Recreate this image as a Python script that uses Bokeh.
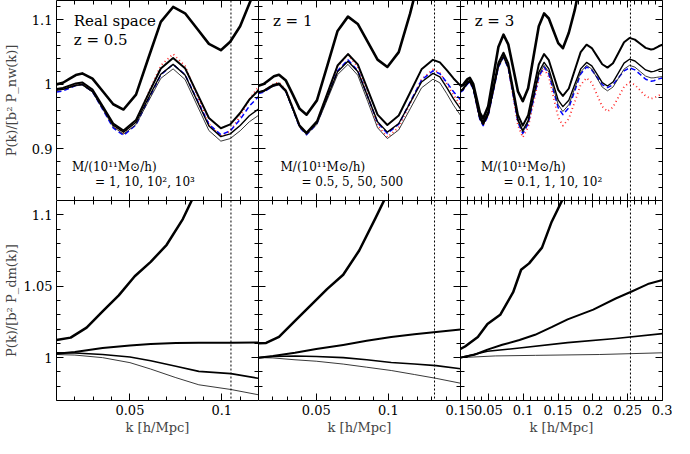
from bokeh.plotting import figure
from bokeh.layouts import row, column
from bokeh.models import (Range1d, LinearAxis, FixedTicker, CustomJSTickFormatter, Span, Label,
                          ColumnDataSource)
from bokeh.embed import file_html
from bokeh.resources import INLINE

Spline = None
try:
    from bokeh.models.glyphs import Spline
except Exception:
    Spline = None

# ---------------- DATA ----------------
# Top row: P(k)/[b^2 P_nw(k)]; A..D = four halo masses (A highest), plus blue dashed and red dotted
k_top_z05 = [0.010, 0.0135, 0.017, 0.0205, 0.024, 0.0296, 0.0353, 0.0409, 0.0465, 0.0533, 0.060,
             0.0668, 0.0735, 0.080, 0.0865, 0.093, 0.0995, 0.1046, 0.110, 0.115, 0.120]
top_z05_A = [1.000, 1.0025, 1.0085, 1.0145, 1.017, 1.0088, 0.989, 0.9692, 0.961, 0.9842, 1.0405,
             1.0968, 1.120, 1.1102, 1.0865, 1.0628, 1.053, 1.066, 1.09, 1.125, 1.16]
top_z05_B = [0.993, 0.9945, 0.998, 1.0015, 1.003, 0.9921, 0.9658, 0.9394, 0.9285, 0.9449, 0.9848,
             1.0246, 1.041, 1.0251, 0.9865, 0.9479, 0.932, 0.9379, 0.9556, 0.9763, 0.991]
top_z05_C = [0.991, 0.9923, 0.9955, 0.9987, 1.000, 0.9892, 0.963, 0.9368, 0.926, 0.9413, 0.9785,
             1.0157, 1.031, 1.0146, 0.975, 0.9354, 0.919, 0.9233, 0.9362, 0.9513, 0.962]
top_z05_D = [0.991, 0.9922, 0.995, 0.9978, 0.999, 0.9879, 0.961, 0.9341, 0.923, 0.9377, 0.9735,
             1.0093, 1.024, 1.0076, 0.968, 0.9284, 0.912, 0.916, 0.928, 0.942, 0.952]
top_z05_blue = [0.988, 0.9898, 0.994, 0.9982, 1.000, 0.9885, 0.9605, 0.9325, 0.921, 0.9371, 0.976,
                1.0149, 1.031, 1.0151, 0.9765, 0.9379, 0.922, 0.9279, 0.9456, 0.9663, 0.981]
top_z05_red = [0.992, 0.9935, 0.997, 1.0005, 1.002, 0.9908, 0.9635, 0.9362, 0.925, 0.9428, 0.986,
               1.0292, 1.047, 1.0285, 0.9835, 0.9385, 0.920, 0.9276, 0.9504, 0.977, 0.996]

k_top_z1 = [0.010, 0.0136, 0.0171, 0.0207, 0.0242, 0.029, 0.0338, 0.0385, 0.0433, 0.0505, 0.0577,
            0.0648, 0.072, 0.0788, 0.0857, 0.0925, 0.0993, 0.1072, 0.1151, 0.123, 0.1309, 0.1357,
            0.1405, 0.1452, 0.150]
top_z1_A = [0.998, 1.0005, 1.0065, 1.0125, 1.015, 1.0059, 0.984, 0.9621, 0.953, 0.9752, 1.029,
            1.0828, 1.105, 1.0936, 1.066, 1.0384, 1.027, 1.05, 1.11, 1.18]
top_z1_B = [0.988, 0.99, 0.9948, 0.9995, 1.0015, 0.9903, 0.9633, 0.9362, 0.925, 0.9428, 0.986,
            1.0292, 1.047, 1.0309, 0.992, 0.9531, 0.937, 0.9517, 0.9875, 1.0233, 1.038, 1.034,
            1.022, 1.0092, 0.998]
top_z1_C = [0.988, 0.9898, 0.994, 0.9982, 1.000, 0.9889, 0.962, 0.9351, 0.924, 0.9404, 0.98,
            1.0196, 1.036, 1.0199, 0.981, 0.9421, 0.926, 0.9393, 0.9715, 1.0037, 1.017, 1.0115,
            0.995, 0.9774, 0.962]
top_z1_D = [0.987, 0.9888, 0.993, 0.9972, 0.999, 0.9878, 0.9605, 0.9332, 0.922, 0.9379, 0.9765,
            1.0151, 1.031, 1.0142, 0.9735, 0.9328, 0.916, 0.9294, 0.962, 0.9946, 1.008, 1.0024,
            0.9856, 0.9677, 0.952]
top_z1_blue = [0.986, 0.988, 0.993, 0.998, 1.000, 0.9886, 0.961, 0.9334, 0.922, 0.9389, 0.98,
               1.0211, 1.038, 1.0214, 0.981, 0.9406, 0.924, 0.9382, 0.9725, 1.0068, 1.021, 1.0165,
               1.003, 0.9886, 0.976]
top_z1_red = [0.988, 0.9902, 0.9955, 1.0008, 1.003, 0.9915, 0.9635, 0.9355, 0.924, 0.9418, 0.985,
              1.0282, 1.046, 1.0273, 0.982, 0.9367, 0.918, 0.9333, 0.9705, 1.0077, 1.023, 1.0175,
              1.001, 0.9834, 0.968]

k_top_z3 = [0.010, 0.01335, 0.0167, 0.02005, 0.0234, 0.0282, 0.033, 0.0377, 0.0425, 0.0498, 0.0571,
            0.0644, 0.0717, 0.0786, 0.0856, 0.0925, 0.0994, 0.1071, 0.1147, 0.1224, 0.130, 0.1368,
            0.1435, 0.1503, 0.157, 0.1655, 0.174, 0.1825, 0.191, 0.1985, 0.206, 0.2135, 0.221,
            0.2289, 0.2369, 0.2448, 0.2527, 0.2604, 0.2681, 0.2758, 0.2835, 0.2876, 0.2918, 0.2959,
            0.300]
top_z3_A = [0.997, 0.9989, 1.0035, 1.0081, 1.010, 1.0008, 0.9785, 0.9562, 0.947, 0.966, 1.012,
            1.058, 1.077, 1.062, 1.0255, 0.989, 0.974, 0.9939, 1.042, 1.0901, 1.110, 1.1021, 1.083,
            1.0639, 1.056, 1.08, 1.115, 1.16]
top_z3_B = [0.990, 0.9923, 0.998, 1.0037, 1.006, 0.9965, 0.9735, 0.9505, 0.941, 0.9568, 0.995,
            1.0332, 1.049, 1.0325, 0.9925, 0.9525, 0.936, 0.9522, 0.9915, 1.0308, 1.047, 1.0375,
            1.0145, 0.9915, 0.982, 0.9936, 1.0218, 1.0499, 1.0615, 1.0563, 1.0438, 1.0312, 1.026,
            1.0327, 1.049, 1.0653, 1.072, 1.0694, 1.063, 1.0566, 1.054, 1.0549, 1.0574, 1.0598,
            1.0615]
top_z3_C = [0.990, 0.992, 0.997, 1.002, 1.004, 0.9944, 0.971, 0.9476, 0.938, 0.9535, 0.991, 1.0285,
            1.044, 1.0271, 0.9863, 0.9454, 0.9285, 0.9439, 0.9813, 1.0186, 1.034, 1.024, 0.9998,
            0.9755, 0.9655, 0.9755, 0.9998, 1.024, 1.034, 1.0287, 1.0158, 1.0028, 0.9975, 1.0036,
            1.0183, 1.0329, 1.039, 1.0362, 1.0293, 1.0224, 1.0196, 1.0202, 1.0218, 1.0234, 1.0245]
top_z3_D = [0.990, 0.992, 0.997, 1.002, 1.004, 0.9942, 0.9705, 0.9468, 0.937, 0.9523, 0.9895,
            1.0267, 1.042, 1.0251, 0.984, 0.9429, 0.926, 0.9411, 0.9778, 1.0144, 1.0295, 1.0191,
            0.9938, 0.9684, 0.958, 0.9684, 0.9938, 1.0191, 1.0295, 1.0237, 1.0098, 0.9958, 0.990,
            0.9958, 1.0098, 1.0237, 1.0295, 1.0267, 1.0198, 1.0128, 1.010, 1.0102, 1.0109, 1.0116,
            1.012]
top_z3_blue = [0.988, 0.9902, 0.9955, 1.0008, 1.003, 0.9932, 0.9695, 0.9458, 0.936, 0.9515, 0.989,
               1.0265, 1.042, 1.0248, 0.983, 0.9412, 0.924, 0.939, 0.9755, 1.012, 1.027, 1.0162,
               0.99, 0.9638, 0.953, 0.9638, 0.99, 1.0162, 1.027, 1.0223, 1.011, 0.9997, 0.995,
               0.9995, 1.0103, 1.021, 1.0255, 1.0225, 1.0153, 1.008, 1.005, 1.0056, 1.0073, 1.0089,
               1.010]
top_z3_red = [0.990, 0.992, 0.997, 1.002, 1.004, 0.9942, 0.9705, 0.9468, 0.937, 0.9526, 0.9905,
              1.0284, 1.044, 1.0256, 0.981, 0.9364, 0.918, 0.9335, 0.9713, 1.009, 1.0245, 1.0116,
              0.9803, 0.9489, 0.936, 0.9468, 0.973, 0.9992, 1.010, 1.0024, 0.984, 0.9656, 0.958,
              0.9646, 0.9805, 0.9964, 1.003, 0.9993, 0.9905, 0.9817, 0.978, 0.9788, 0.9812, 0.9835,
              0.985]

# Bottom row: P(k)/[b^2 P_dm(k)]
k_bot_z05_A = [0.010, 0.0177, 0.0264, 0.0351, 0.0439, 0.0526, 0.0613, 0.070, 0.0788, 0.084, 0.090]
bot_z05_A = [1.0123, 1.014, 1.021, 1.0324, 1.0436, 1.057, 1.067, 1.079, 1.097, 1.111, 1.125]
k_bot_z05 = [0.010, 0.020, 0.0351, 0.050, 0.0613, 0.075, 0.0875, 0.105, 0.120]
bot_z05_B = [1.0027, 1.004, 1.0067, 1.0085, 1.0096, 1.0102, 1.0105, 1.0105, 1.0106]
bot_z05_C = [1.0034, 1.0032, 1.0022, 1.0005, 0.9978, 0.994, 0.9904, 0.9888, 0.9855]
bot_z05_D = [1.0022, 1.0018, 1.000, 0.9965, 0.992, 0.986, 0.981, 0.9777, 0.974]

k_bot_z1_A = [0.010, 0.0153, 0.0242, 0.0353, 0.0465, 0.0575, 0.0687, 0.0798, 0.0909, 0.0975, 0.105]
bot_z1_A = [1.0101, 1.0103, 1.0146, 1.0257, 1.0369, 1.048, 1.058, 1.075, 1.0973, 1.111, 1.130]
k_bot_z1 = [0.010, 0.020, 0.0353, 0.050, 0.0687, 0.085, 0.102, 0.118, 0.1331, 0.150]
bot_z1_B = [1.000, 1.0012, 1.0034, 1.006, 1.0089, 1.0118, 1.0145, 1.0163, 1.0179, 1.0197]
bot_z1_C = [1.000, 1.0008, 1.0011, 1.0008, 1.000, 0.9985, 0.9966, 0.9955, 0.9944, 0.9922]
bot_z1_D = [1.000, 0.9998, 0.9985, 0.9975, 0.9955, 0.9933, 0.991, 0.9882, 0.9855, 0.9821]

k_bot_z3_A = [0.010, 0.0165, 0.0349, 0.0487, 0.067, 0.0856, 0.097, 0.1085, 0.127, 0.1408, 0.1568, 0.165]
bot_z3_A = [1.0062, 1.0078, 1.0145, 1.0235, 1.030, 1.0458, 1.0615, 1.066, 1.077, 1.095, 1.111, 1.125]
k_bot_z3_B = [0.010, 0.030, 0.0487, 0.070, 0.0947, 0.117, 0.1408, 0.1638, 0.2006, 0.2328, 0.2558,
              0.2789, 0.300]
bot_z3_B = [1.000, 1.002, 1.0056, 1.009, 1.0123, 1.016, 1.0213, 1.0268, 1.0336, 1.0414, 1.0463,
            1.0515, 1.0544]
k_bot_z3_C = [0.010, 0.0487, 0.0947, 0.1638, 0.2328, 0.300]
bot_z3_C = [1.000, 1.0045, 1.0067, 1.0105, 1.0134, 1.0168]
k_bot_z3_D = [0.010, 0.060, 0.1177, 0.2099, 0.300]
bot_z3_D = [1.000, 1.0012, 1.0016, 1.0022, 1.0034]

k_nl = [0.105, 0.132, 0.254]

x1_major = [0.05, 0.1]
x1_minor = [0.02, 0.03, 0.04, 0.06, 0.07, 0.08, 0.09, 0.11]
x2_major = [0.05, 0.1, 0.15]
x2_minor = [0.02, 0.03, 0.04, 0.06, 0.07, 0.08, 0.09, 0.11, 0.12, 0.13, 0.14]
x3_major = [0.05, 0.1, 0.15, 0.2, 0.25, 0.3]
x3_minor = [0.02, 0.03, 0.04, 0.06, 0.07, 0.08, 0.09, 0.11, 0.12, 0.13, 0.14,
            0.16, 0.17, 0.18, 0.19, 0.21, 0.22, 0.23, 0.24, 0.26, 0.27, 0.28, 0.29]
ytop_major = [0.9, 1, 1.1]
ytop_minor = [0.82, 0.84, 0.86, 0.88, 0.92, 0.94, 0.96, 0.98, 1.02, 1.04, 1.06, 1.08, 1.12]
ybot_major = [1, 1.05, 1.1]
ybot_minor = [0.97, 0.98, 0.99, 1.01, 1.02, 1.03, 1.04, 1.06, 1.07, 1.08, 1.09]

panel_titles = [["Real space", "z = 0.5"], ["z = 1"], ["z = 3"]]
mass_head = "M/(10\u00b9\u00b9M\u2299/h)"
mass_lists = ["= 1, 10, 10\u00b2, 10\u00b3", "= 0.5, 5, 50, 500", "= 0.1, 1, 10, 10\u00b2"]

# ---------------- LAYOUT / STYLE ----------------
FONT = "DejaVu Serif"
W, H = 202, 200
LEFT = 52


def curve(p, x, y, **kw):
    n = min(len(x), len(y))
    x, y = x[:n], y[:n]
    if Spline is not None:
        src = ColumnDataSource(dict(x=x, y=y))
        p.add_glyph(src, Spline(x="x", y="y", **kw))
    else:
        p.line(x=x, y=y, line_join="round", **kw)


def style_axis(ax, major, minor, labels):
    ax.ticker = FixedTicker(ticks=major, minor_ticks=minor)
    ax.major_tick_in = 7
    ax.major_tick_out = 0
    ax.minor_tick_in = 4
    ax.minor_tick_out = 0
    ax.axis_line_color = "black"
    ax.major_tick_line_color = "black"
    ax.minor_tick_line_color = "black"
    ax.axis_line_width = 1
    if labels:
        ax.formatter = CustomJSTickFormatter(code="return String(tick);")
        ax.major_label_text_font = FONT
        ax.major_label_text_font_size = "13px"
        ax.major_label_standoff = 4
        ax.major_label_text_color = "black"
    else:
        ax.formatter = CustomJSTickFormatter(code="return '';")
        ax.major_label_text_font_size = "0px"
        ax.major_label_standoff = 0


def make_panel(xr, yr, xmaj, xmin, ymaj, ymin, xlab, ylab, ylabel=None, ylab_standoff=2,
               bl=0, br=0, styles=None):
    kw = dict(frame_width=W, frame_height=H,
              x_range=Range1d(*xr), y_range=Range1d(*yr),
              output_backend="svg", toolbar_location=None,
              min_border_left=bl, min_border_right=br, min_border_top=0, min_border_bottom=0,
              background_fill_color=None, border_fill_color=None, outline_line_color=None)
    if styles:
        kw["styles"] = styles
    p = figure(**kw)
    p.grid.visible = False
    style_axis(p.xaxis[0], xmaj, xmin, xlab)
    style_axis(p.yaxis[0], ymaj, ymin, ylab)
    if xlab:
        p.xaxis[0].axis_label = "k [h/Mpc]"
        p.xaxis[0].axis_label_text_font = FONT
        p.xaxis[0].axis_label_text_font_size = "13px"
        p.xaxis[0].axis_label_text_font_style = "normal"
        p.xaxis[0].axis_label_standoff = 2
    if ylabel:
        p.yaxis[0].axis_label = ylabel
        p.yaxis[0].axis_label_text_font = FONT
        p.yaxis[0].axis_label_text_font_size = "13px"
        p.yaxis[0].axis_label_text_font_style = "normal"
        p.yaxis[0].axis_label_standoff = ylab_standoff
    top = LinearAxis()
    style_axis(top, xmaj, xmin, False)
    p.add_layout(top, "above")
    right = LinearAxis()
    style_axis(right, ymaj, ymin, False)
    p.add_layout(right, "right")
    return p


def draw_top(p, k, A, B, C, D, blue, red):
    curve(p, k, red, line_color="#ff2a2a", line_width=1.8, line_dash="1 3")
    curve(p, k, blue, line_color="#0000ff", line_width=1.5, line_dash="5 3")
    curve(p, k, D, line_color="#222222", line_width=0.9)
    curve(p, k, C, line_color="black", line_width=1.4)
    curve(p, k, B, line_color="black", line_width=2.0)
    curve(p, k, A, line_color="black", line_width=2.6)


ytop = (0.82, 1.13)
ybot = (0.97, 1.11)
xr1 = (0.01, 0.12)
xr2 = (0.01, 0.1500001)
xr3 = (0.01, 0.3000001)

f1 = make_panel(xr1, ytop, x1_major, x1_minor, ytop_major, ytop_minor, False, True,
                ylabel="P(k)/[b\u00b2 P_nw(k)]", ylab_standoff=10, bl=LEFT)
f2 = make_panel(xr2, ytop, x2_major, x2_minor, ytop_major, ytop_minor, False, False)
f3 = make_panel(xr3, ytop, x3_major, x3_minor, ytop_major, ytop_minor, False, False, br=10)
f4 = make_panel(xr1, ybot, x1_major, x1_minor, ybot_major, ybot_minor, True, True,
                ylabel="P(k)/[b\u00b2 P_dm(k)]", ylab_standoff=2, bl=LEFT)
f5 = make_panel(xr2, ybot, x2_major, x2_minor, ybot_major, ybot_minor, True, False,
                br=14, styles={"margin-right": "-14px"})
f6 = make_panel(xr3, ybot, x3_major, x3_minor, ybot_major, ybot_minor, True, False, br=10)

draw_top(f1, k_top_z05, top_z05_A, top_z05_B, top_z05_C, top_z05_D, top_z05_blue, top_z05_red)
draw_top(f2, k_top_z1, top_z1_A, top_z1_B, top_z1_C, top_z1_D, top_z1_blue, top_z1_red)
draw_top(f3, k_top_z3, top_z3_A, top_z3_B, top_z3_C, top_z3_D, top_z3_blue, top_z3_red)

for p, kA, A, kB, B, kC, C, kD, D in [
        (f4, k_bot_z05_A, bot_z05_A, k_bot_z05, bot_z05_B, k_bot_z05, bot_z05_C, k_bot_z05, bot_z05_D),
        (f5, k_bot_z1_A, bot_z1_A, k_bot_z1, bot_z1_B, k_bot_z1, bot_z1_C, k_bot_z1, bot_z1_D),
        (f6, k_bot_z3_A, bot_z3_A, k_bot_z3_B, bot_z3_B, k_bot_z3_C, bot_z3_C, k_bot_z3_D, bot_z3_D)]:
    curve(p, kD, D, line_color="#222222", line_width=0.9)
    curve(p, kC, C, line_color="black", line_width=1.6)
    curve(p, kB, B, line_color="black", line_width=2.0)
    curve(p, kA, A, line_color="black", line_width=2.5)

for (pt, pb), kn in zip([(f1, f4), (f2, f5), (f3, f6)], k_nl):
    for p in (pt, pb):
        p.add_layout(Span(location=kn, dimension="height", line_color="black",
                          line_width=1, line_dash="2 2"))

title_pos = [[(0.0194, 1.099), (0.0194, 1.069)], [(0.020, 1.099)], [(0.0303, 1.099)]]
head_pos = [(0.0184, 0.872), (0.0253, 0.872), (0.0394, 0.872)]
list_pos = [(0.031, 0.849), (0.0398, 0.849), (0.0717, 0.849)]
for i, p in enumerate([f1, f2, f3]):
    for txt, (x, y) in zip(panel_titles[i], title_pos[i]):
        p.add_layout(Label(x=x, y=y, text=txt, text_font=FONT, text_font_size="15px",
                           text_baseline="middle", text_align="left", text_color="black"))
    p.add_layout(Label(x=head_pos[i][0], y=head_pos[i][1], text=mass_head, text_font=FONT,
                       text_font_size="12px", text_baseline="middle", text_color="black"))
    p.add_layout(Label(x=list_pos[i][0], y=list_pos[i][1], text=mass_lists[i], text_font=FONT,
                       text_font_size="12px", text_baseline="middle", text_color="black"))

layout = column(row(f1, f2, f3), row(f4, f5, f6))
open("out.html", "w").write(file_html(layout, INLINE))
